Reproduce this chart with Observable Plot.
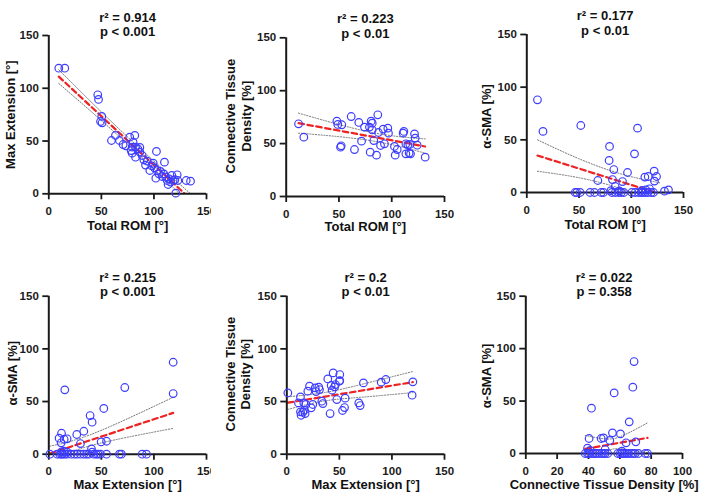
<!DOCTYPE html>
<html>
<head>
<meta charset="utf-8">
<script src="https://cdn.jsdelivr.net/npm/d3@7"></script>
<script src="https://cdn.jsdelivr.net/npm/@observablehq/plot@0.6"></script>
<style>
  html, body { margin: 0; padding: 0; background: #fff; }
  #root { position: relative; width: 702px; height: 498px; overflow: hidden; background: #fff; }
  .panel { position: absolute; }
  .panel svg { overflow: hidden; }
  .panel [aria-label^="x-axis"] line, .panel [aria-label^="y-axis"] line,
  .panel [aria-label="x-axis tick"] path, .panel [aria-label="y-axis tick"] path { stroke-width: 1.8; stroke: #1a1a1a; }
</style>
</head>
<body>
<div id="root"></div>
<script>
// ---------- data ----------
const ticks150 = [0, 50, 100, 150];
const ticks100 = [0, 20, 40, 60, 80, 100];

const titlesR2 = ["r² = 0.914", "r² = 0.223", "r² = 0.177", "r² = 0.215", "r² = 0.2", "r² = 0.022"];
const titlesP = ["p < 0.001", "p < 0.01", "p < 0.01", "p < 0.001", "p < 0.01", "p = 0.358"];
const xLabels = ["Total ROM [°]", "Total ROM [°]", "Total ROM [°]", "Max Extension [°]", "Max Extension [°]", "Connective Tissue Density [%]"];
const yLabels = [["Max Extension [°]"], ["Connective Tissue", "Density [%]"], ["α-SMA [%]"], ["α-SMA [%]"], ["Connective Tissue", "Density [%]"], ["α-SMA [%]"]];

// Panel 1: Total ROM vs Max Extension
const p1X = [9.5, 15.2, 46.6, 47.3, 50.4, 49.2, 50.7, 59.6, 63.4, 67.2, 70.7, 73.3, 77, 79.3, 81.8, 80.2, 82.5, 78.3, 79.3, 82.5, 84.7, 86.6, 86.6, 88.8, 90.4, 92, 93.6, 96.1, 98, 99.3, 100.5, 102.4, 103.1, 101.8, 104.7, 106.2, 107.8, 109.4, 110, 111.3, 112.6, 113.5, 114.5, 115.8, 117, 118.3, 119.9, 122.1, 120.8, 122.7, 130.7, 134.8];
const p1Y = [119, 119, 93.8, 89.4, 73.3, 68.5, 67.3, 50.5, 55.3, 50.5, 46.7, 45.5, 53.7, 44.2, 55.3, 49, 44.2, 41, 38.5, 34.7, 42.6, 43.9, 39.5, 36.3, 32.2, 27.2, 31, 22.1, 26.5, 29, 24.6, 40.1, 22.1, 14.8, 18.9, 21.2, 16.4, 18.9, 30, 15.8, 12.6, 8.8, 14.2, 11.1, 17.4, 12.6, 13.3, 18, 0.6, 12.6, 12.6, 12];
const p1FitX = [9.5, 134.8];
const p1FitY = [111, -5];
const p1CiX = [9.5, 70, 134.8];
const p1CiUpper = [117.5, 58.5, 0];
const p1CiLower = [104.5, 51.5, -10];

// Panel 2: Total ROM vs Connective Tissue Density
const p2X = [11.7, 16.7, 48, 48.9, 52.7, 51.5, 52.1, 61.6, 64.7, 68.8, 71.4, 74.2, 78.9, 80.5, 81.5, 81.5, 79.6, 83, 85.6, 86.8, 87.4, 89.4, 91.9, 93.1, 96.3, 96.9, 102.6, 103.3, 105.2, 110.8, 111.5, 113.4, 113.4, 115.3, 116.5, 117.8, 117.1, 121.6, 122.2, 124.1, 131.7];
const p2Y = [68.7, 56.1, 71.2, 68.1, 67.8, 46.6, 47.9, 75.6, 44.4, 70, 52.3, 65.6, 65.6, 71.2, 69.3, 63, 41.9, 52.9, 39.1, 77.2, 60.5, 48.2, 63.7, 49.8, 64.6, 59.9, 47.3, 39.1, 44.4, 59.9, 61.5, 49.8, 40.3, 48.8, 41, 40.3, 49.2, 59.2, 55.2, 48.5, 37.2];
const p2FitX = [11.7, 131.7];
const p2FitY = [69.3, 47.3];
const p2CiX = [11.7, 80, 131.7];
const p2CiUpper = [78.8, 60.8, 54.5];
const p2CiLower = [59.9, 52.8, 41];

// Panel 3: Total ROM vs alpha-SMA
const p3X = [10.2, 15.5, 51.7, 79.2, 78.8, 83.3, 82, 84.6, 68, 91.6, 96.4, 103.1, 106, 113, 116.2, 121.9, 122.2, 124.2, 117.5, 114, 135.6, 131.8,
  46.3, 47.9, 51.1, 60.6, 64.8, 71.2, 73.4, 81.4, 84.6, 87.8, 90.3, 92.9, 100.5, 103.7, 107, 109.5, 111.1, 113.3, 115.9, 119.1, 121.3, 80.5, 88.5, 110.2];
const p3Y = [88, 58, 63.6, 43.7, 30.4, 21.8, 12.3, 5.7, 11.4, 10.4, 19, 36.7, 61.1, 14.6, 15.2, 20.3, 10.8, 15.2, 3.5, 2.5, 2.5, 1.3,
  0, 0, 0, 0, 0, 0, 0, 0, 0, 0, 0, 0, 0, 0, 0, 0, 0, 0, 0, 0, 0, 1.8, 1.5, 2];
const p3FitX = [10.2, 135.6];
const p3FitY = [35.1, -3.9];
const p3CiX = [10.2, 50, 90, 128];
const p3CiUpper = [50, 32, 17.7, 9];
const p3CiLower = [20.2, 14, 3.7, -11];

// Panel 4: Max Extension vs alpha-SMA
const p4X = [118.3, 118.3, 72.3, 15.2, 52.3, 39.3, 41.2, 33.3, 26.6, 12.1, 9.8, 14.6, 17.4, 11.7, 30.1, 49.8, 54.9, 40.6,
  1, 7.9, 10.5, 12.1, 13.3, 15.2, 17.4, 21.2, 24.4, 27, 30.1, 33.3, 35.8, 38.1, 42.8, 45, 46.9, 49.2, 54.9, 67.2, 69.1, 88.8, 92.9, 12.1, 14.3, 17.4, 41.2];
const p4Y = [87.3, 57.6, 63.3, 61.1, 43.4, 36.7, 30.4, 21.8, 18.7, 19.9, 15.2, 14.2, 14.6, 10.8, 10.1, 11.7, 12.3, 5.1,
  0, 0, 0, 0, 0, 0, 0, 0, 0, 0, 0, 0, 0, 0, 0, 0, 0, 0, 0, 0, 0, 0, 0, 2.2, 2.8, 1.9, 1.9];
const p4FitX = [1, 118.3];
const p4FitY = [0.6, 39.2];
const p4CiX = [1, 25, 60, 118.3];
const p4CiUpper = [7.6, 13.5, 27, 54];
const p4CiLower = [-6.4, 3.5, 13, 24.5];

// Panel 5: Max Extension vs Connective Tissue Density
const p5X = [1, 11.1, 13, 13, 13.6, 15.2, 16.2, 16.8, 18.1, 17.4, 20, 21.6, 23.2, 24.7, 27, 27.9, 30.4, 31.1, 33.3, 34.3, 39, 41.2, 42.2, 43.1, 44.1, 45.4, 46.3, 47.6, 50.4, 50.4, 50.1, 53, 55.5, 54.9, 72.9, 68.5, 69.8, 89.8, 94.2, 119.9, 119.2];
const p5Y = [58.2, 48.7, 54.4, 40.2, 37, 39.9, 48.7, 41.8, 47.2, 38.6, 59.8, 64.6, 44, 47.2, 63, 59.5, 63.6, 61.4, 50.3, 48.1, 71.5, 38.6, 65.2, 60.8, 77.2, 63.9, 66.1, 51.9, 75.6, 69.9, 69.3, 41.5, 53.2, 44.3, 67.7, 48.7, 46.2, 68.4, 70.9, 68.7, 56];
const p5FitX = [1, 119.9];
const p5FitY = [48.9, 68.4];
const p5CiX = [1, 35, 70, 119.9];
const p5CiUpper = [54.5, 58.4, 66, 78.5];
const p5CiLower = [42.5, 50.4, 54, 58.5];

// Panel 6: Connective Tissue Density vs alpha-SMA
const p6X = [69.1, 68.3, 56.4, 41.9, 66, 55.3, 60.4, 48.1, 49.6, 40.4, 53.6, 64, 70.2, 39.4,
  37.9, 39.4, 40.4, 42.1, 43.2, 44.3, 45.3, 47, 48.5, 49.6, 50.6, 52.3, 58.7, 60.2, 61.3, 62.3, 63.4, 64.5, 65.5, 67.2, 68.7, 69.8, 71.9, 76.2, 77.7, 41, 50.6, 61.3];
const p6Y = [87.7, 63.2, 57.8, 43.2, 30.2, 19.7, 18.7, 14.3, 14.9, 14.3, 12.4, 10.2, 11.1, 5.1,
  0, 0, 0, 0, 0, 0, 0, 0, 0, 0, 0, 0, 0, 0, 0, 0, 0, 0, 0, 0, 0, 0, 0, 0, 0, 2.9, 3.8, 2.2];
const p6FitX = [37.9, 77.7];
const p6FitY = [4.4, 14.9];
const p6CiX = [37.9, 45, 55, 65, 77.7];
const p6CiUpper = [17.2, 15.1, 14, 19.2, 29.2];
const p6CiLower = [-8.4, -2.7, 4, 3.8, 0.8];

// ---------- layout (page boxes) ----------
const panels = [
  {X: p1X, Y: p1Y, fx: p1FitX, fy: p1FitY, cx: p1CiX, cu: p1CiUpper, cl: p1CiLower, xd: [0, 150], xt: ticks150,
   left: 0, top: 0, width: 211, height: 249, mL: 48.3, mR: 5, mT: 35, mB: 55.7, r2dy: -22.3, pdy: -8.3, ylx: [-38.3], yly: 0, xly: 36},
  {X: p2X, Y: p2Y, fx: p2FitX, fy: p2FitY, cx: p2CiX, cu: p2CiUpper, cl: p2CiLower, xd: [0, 150], xt: ticks150,
   left: 222, top: 0, width: 246, height: 249, mL: 63.7, mR: 24, mT: 37.3, mB: 53, r2dy: -24, pdy: -9, ylx: [-55.2, -39.7], yly: -1, xly: 34.5},
  {X: p3X, Y: p3Y, fx: p3FitX, fy: p3FitY, cx: p3CiX, cu: p3CiUpper, cl: p3CiLower, xd: [0, 150], xt: ticks150,
   left: 468, top: 0, width: 234, height: 249, mL: 58.3, mR: 19, mT: 34, mB: 57, r2dy: -24, pdy: -9, ylx: [-40], yly: 3, xly: 36},
  {X: p4X, Y: p4Y, fx: p4FitX, fy: p4FitY, cx: p4CiX, cu: p4CiUpper, cl: p4CiLower, xd: [0, 150], xt: ticks150,
   left: 0, top: 249, width: 211, height: 249, mL: 48.3, mR: 5, mT: 46.7, mB: 44.3, r2dy: -23.4, pdy: -9.4, ylx: [-35.5], yly: -2, xly: 35},
  {X: p5X, Y: p5Y, fx: p5FitX, fy: p5FitY, cx: p5CiX, cu: p5CiUpper, cl: p5CiLower, xd: [0, 150], xt: ticks150,
   left: 222, top: 249, width: 246, height: 249, mL: 64.3, mR: 24, mT: 46.7, mB: 44.3, r2dy: -23.4, pdy: -9.4, ylx: [-56, -40.6], yly: -1, xly: 35},
  {X: p6X, Y: p6Y, fx: p6FitX, fy: p6FitY, cx: p6CiX, cu: p6CiUpper, cl: p6CiLower, xd: [0, 100], xt: ticks100,
   left: 468, top: 249, width: 234, height: 249, mL: 57.3, mR: 20, mT: 46.7, mB: 45, r2dy: -23.4, pdy: -9.4, ylx: [-39], yly: 1, xly: 35.5}
];

const FONT = "'Liberation Sans', Arial, Helvetica, sans-serif";
const BLUE = "#3d3dff";
const RED = "#ee2222";
const root = document.getElementById("root");

panels.forEach((p, i) => {
  const pts = p.X.map((x, j) => ({x, y: p.Y[j]}));
  const fit = p.fx.map((x, j) => ({x, y: p.fy[j]}));
  const up = p.cx.map((x, j) => ({x, y: p.cu[j]}));
  const lo = p.cx.map((x, j) => ({x, y: p.cl[j]}));
  const txt = {fontFamily: FONT, fontWeight: "bold", fontSize: 13, fill: "#111", textAnchor: "middle"};
  const halfFrame = (p.width - p.mL - p.mR) / 2;
  const ylabMarks = yLabels[i].map((lab, k) =>
    Plot.text([lab], {...txt, text: d => d, frameAnchor: "middle", rotate: -90, dx: p.ylx[k] - halfFrame, dy: p.yly}));
  const chart = Plot.plot({
    width: p.width, height: p.height,
    marginLeft: p.mL, marginRight: p.mR, marginTop: p.mT, marginBottom: p.mB,
    style: {fontFamily: FONT, fontWeight: "bold", fontSize: "11.5px", color: "#1a1a1a", background: "white"},
    x: {domain: p.xd, ticks: p.xt, tickFormat: d => d, tickSize: 6, tickPadding: 7, label: null},
    y: {domain: [0, 150], ticks: ticks150, tickFormat: d => d, tickSize: 6, tickPadding: 4, label: null},
    marks: [
      Plot.line(up, {x: "x", y: "y", curve: "natural", stroke: "#777", strokeWidth: 1, strokeDasharray: "1.2,1.6", clip: true}),
      Plot.line(lo, {x: "x", y: "y", curve: "natural", stroke: "#777", strokeWidth: 1, strokeDasharray: "1.2,1.6", clip: true}),
      Plot.line(fit, {x: "x", y: "y", stroke: RED, strokeWidth: 2.2, strokeDasharray: "5.5,3.5", clip: true}),
      Plot.ruleX([p.xd[0]], {stroke: "#1a1a1a", strokeWidth: 2}),
      Plot.ruleY([0], {stroke: "#1a1a1a", strokeWidth: 2}),
      Plot.dot(pts, {x: "x", y: "y", r: 3.8, stroke: BLUE, strokeWidth: 1.2, fill: "none"}),
      Plot.text([titlesR2[i]], {...txt, text: d => d, frameAnchor: "top", dy: p.r2dy}),
      Plot.text([titlesP[i]], {...txt, text: d => d, frameAnchor: "top", dy: p.pdy}),
      Plot.text([xLabels[i]], {...txt, text: d => d, frameAnchor: "bottom", dy: p.xly}),
      ...ylabMarks
    ]
  });
  const div = document.createElement("div");
  div.className = "panel";
  div.style.left = p.left + "px";
  div.style.top = p.top + "px";
  div.style.width = p.width + "px";
  div.style.height = p.height + "px";
  div.appendChild(chart);
  root.appendChild(div);
});
</script>
</body>
</html>
